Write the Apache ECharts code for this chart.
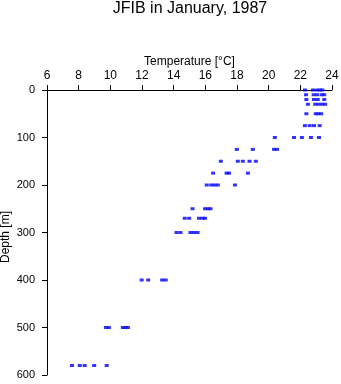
<!DOCTYPE html>
<html>
<head>
<meta charset="utf-8">
<script src="https://cdn.jsdelivr.net/npm/echarts@6/dist/echarts.min.js"></script>
<style>
html,body{margin:0;padding:0;background:#fff;}
#chart{width:341px;height:384px;}
</style>
</head>
<body>
<div id="chart"></div>
<script>
const chartTitle = 'JFIB in January, 1987';
const xAxisName = 'Temperature [°C]';
const yAxisName = 'Depth [m]';
const depthLevels = [0, 10, 20, 30, 50, 75, 100, 125, 150, 175, 200, 250, 270, 300, 400, 500, 580];
const tempsAtLevel = [
  [22.29, 22.80, 23.06, 23.25, 23.39],
  [22.36, 22.84, 23.06, 23.35, 23.51],
  [22.38, 22.86, 23.10, 23.51],
  [22.48, 22.94, 23.16, 23.38, 23.57],
  [22.38, 22.97, 23.13, 23.32],
  [22.29, 22.59, 22.86, 23.22],
  [20.39, 21.60, 22.10, 22.67, 23.18],
  [17.99, 19.00, 20.34, 20.53],
  [16.98, 18.05, 18.37, 18.79, 19.19],
  [16.49, 17.34, 17.50, 18.69],
  [16.09, 16.37, 16.58, 16.79, 17.87],
  [15.19, 15.98, 16.17, 16.33],
  [14.70, 14.98, 15.60, 15.82, 15.98],
  [14.18, 14.43, 15.06, 15.28, 15.51],
  [11.98, 12.39, 13.27, 13.50],
  [9.72, 9.91, 10.79, 10.95, 11.11],
  [7.58, 8.07, 8.38, 8.98, 9.77]
];
const xTicks = [6, 24, 2];
const yTicks = [0, 600, 100];

const points = [];
depthLevels.forEach((d, i) => tempsAtLevel[i].forEach(t => points.push([t, d])));

const font = 'Liberation Sans, Arial, Helvetica, sans-serif';
const chart = echarts.init(document.getElementById('chart'), null, {renderer: 'canvas'});
chart.setOption({
  animation: false,
  backgroundColor: '#fff',
  title: {
    text: chartTitle,
    left: 190,
    textAlign: 'center',
    top: 1,
    padding: 0,
    textStyle: {fontFamily: font, fontSize: 16, fontWeight: 'normal', color: '#000'}
  },
  grid: {left: 47, top: 90, width: 285, height: 285, containLabel: false, outerBoundsMode: 'none'},
  xAxis: {
    type: 'value', position: 'top',
    min: xTicks[0], max: xTicks[1], interval: xTicks[2],
    name: xAxisName, nameLocation: 'middle', nameGap: 22, nameMoveOverlap: false,
    nameTextStyle: {fontFamily: font, fontSize: 12, color: '#000'},
    axisLine: {show: true, lineStyle: {color: '#000', width: 1}},
    axisTick: {show: true, length: 5, inside: false, lineStyle: {color: '#000'}},
    axisLabel: {fontFamily: font, fontSize: 12, color: '#000', margin: 8},
    splitLine: {show: false}
  },
  yAxis: {
    type: 'value', inverse: true,
    min: yTicks[0], max: yTicks[1], interval: yTicks[2],
    name: yAxisName, nameLocation: 'middle', nameGap: 35, nameRotate: 90, nameMoveOverlap: false,
    nameTextStyle: {fontFamily: font, fontSize: 12, color: '#000', padding: [0, 9, 0, 0]},
    axisLine: {show: true, lineStyle: {color: '#000', width: 1}},
    axisTick: {show: true, length: 5, inside: false, lineStyle: {color: '#000'}},
    axisLabel: {fontFamily: font, fontSize: 11, color: '#000', margin: 12},
    splitLine: {show: false}
  },
  series: [{
    type: 'scatter',
    data: points,
    symbol: 'rect',
    symbolSize: [4, 3],
    itemStyle: {color: '#0000ff'},
    silent: true
  }]
});
</script>
</body>
</html>
